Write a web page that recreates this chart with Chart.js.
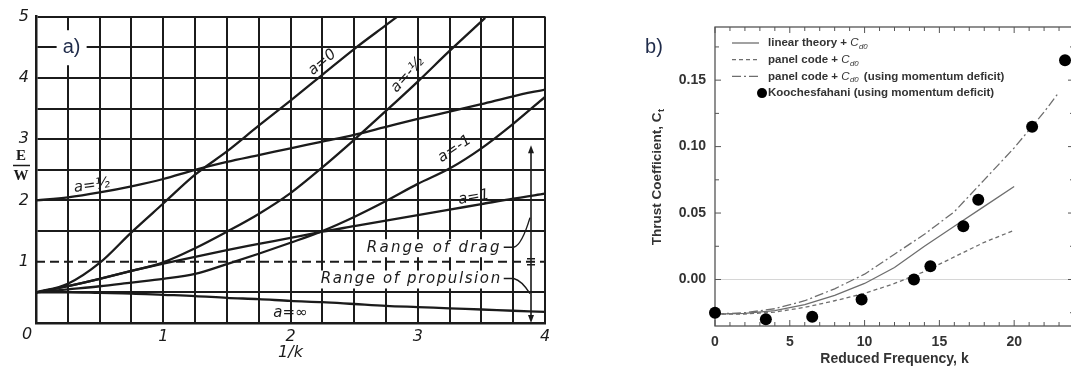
<!DOCTYPE html>
<html>
<head>
<meta charset="utf-8">
<title>Oscillating foil: energy ratio and thrust</title>
<script src="https://cdn.jsdelivr.net/npm/chart.js@4.4.1/dist/chart.umd.min.js"></script>
<style>
  html, body { margin: 0; padding: 0; background: #fff; overflow: hidden; }
  body { width: 1071px; height: 369px; position: relative; }
  canvas { position: absolute; top: 0; }
  #chartA { left: 0; }
  #chartB { left: 620px; }
</style>
</head>
<body>
<canvas id="chartA" width="560" height="369"></canvas>
<canvas id="chartB" width="460" height="369"></canvas>
<script>
// ---------- a) E/W against 1/k, one curve per pivot position a ----------
const invK = [0, 0.25, 0.5, 0.75, 1, 1.25, 1.5, 1.75, 2, 2.25, 2.5, 2.75, 3, 3.25, 3.5, 3.75, 4];
const invKZero = [0, 0.25, 0.5, 0.75, 1, 1.25, 1.5, 1.75, 2, 2.25, 2.5, 2.75, 2.84];
const ewZero = [0.5, 0.64, 0.98, 1.48, 1.95, 2.42, 2.8, 3.22, 3.63, 4.05, 4.47, 4.86, 5.0];
const invKMinusHalf = [0, 0.25, 0.5, 0.75, 1, 1.25, 1.5, 1.75, 2, 2.25, 2.5, 2.75, 3, 3.25, 3.53];
const ewMinusHalf = [0.5, 0.6, 0.72, 0.85, 0.99, 1.22, 1.49, 1.78, 2.12, 2.54, 2.99, 3.46, 3.94, 4.44, 4.98];
const ewHalf = [2.0, 2.05, 2.13, 2.23, 2.35, 2.5, 2.63, 2.74, 2.85, 2.96, 3.07, 3.2, 3.33, 3.45, 3.57, 3.7, 3.81];
const ewOne = [0.5, 0.6, 0.72, 0.85, 0.97, 1.08, 1.19, 1.29, 1.39, 1.49, 1.58, 1.67, 1.76, 1.85, 1.94, 2.03, 2.11];
const ewMinusOne = [0.5, 0.55, 0.6, 0.66, 0.72, 0.8, 0.96, 1.13, 1.31, 1.5, 1.73, 1.99, 2.27, 2.52, 2.85, 3.25, 3.69];
const ewInf = [0.5, 0.5, 0.49, 0.48, 0.46, 0.44, 0.41, 0.39, 0.36, 0.34, 0.31, 0.28, 0.26, 0.24, 0.22, 0.2, 0.18];
// boundary between drag and propulsion
const dragLimitK = [0, 4];
const dragLimitEW = [1, 1];

// ---------- b) thrust coefficient against reduced frequency ----------
const kTheory = [0, 2, 4, 6, 8, 10, 12, 14, 16, 18, 20];
const ctLinear = [-0.026, -0.0255, -0.0235, -0.019, -0.012, -0.003, 0.009, 0.025, 0.040, 0.055, 0.070];
const ctPanel = [-0.026, -0.026, -0.0245, -0.021, -0.016, -0.0105, -0.003, 0.006, 0.017, 0.028, 0.037];
const kPanelMom = [0, 2, 4, 6, 8, 10, 12, 14, 16, 18, 20, 22, 23];
const ctPanelMom = [-0.026, -0.025, -0.022, -0.016, -0.007, 0.004, 0.019, 0.034, 0.051, 0.075, 0.099, 0.126, 0.141];
const kExp = [0, 3.4, 6.5, 9.8, 13.3, 14.4, 16.6, 17.6, 21.2, 23.4];
const ctExp = [-0.025, -0.030, -0.028, -0.015, 0.0, 0.010, 0.040, 0.060, 0.115, 0.165];
// major (labelled) and minor tick positions on the C_t axis
const ctTicks = [-0.025, 0, 0.025, 0.05, 0.075, 0.1, 0.125, 0.15, 0.175];

const pts = (xs, ys) => xs.map((v, i) => ({ x: v, y: ys[i] }));

const INK = '#1b1b1b';
const HAND = '"DejaVu Sans"';

// text written along the curves of a)
const curveNotes = [
  { text: 'a=0', k: 2.25, ew: 4.25, angle: -40 },
  { text: 'a=-½', k: 2.92, ew: 4.05, angle: -48 },
  { text: 'a=-1', k: 3.29, ew: 2.84, angle: -34 },
  { text: 'a=1', k: 3.44, ew: 2.05, angle: -10 },
  { text: 'a=½', k: 0.44, ew: 2.24, angle: -8 },
  { text: 'a=∞', k: 2.0, ew: 0.16, angle: 0 }
];
const rangeNotes = [
  { text: 'Range of drag', k: 3.66, ew: 1.22, spacing: '2.2px' },
  { text: 'Range of propulsion', k: 3.66, ew: 0.71, spacing: '1.6px' }
];
const arrowK = 3.89;
const arrowTop = 2.9;

const notesA = {
  id: 'notesA',
  beforeDatasetsDraw(chart) {
    const { ctx, scales: { x, y } } = chart;
    ctx.save();
    ctx.font = `italic 15px ${HAND}`;
    ctx.textBaseline = 'middle';
    ctx.textAlign = 'right';
    rangeNotes.forEach(n => {
      ctx.letterSpacing = n.spacing;
      const px = x.getPixelForValue(n.k), py = y.getPixelForValue(n.ew);
      const w = ctx.measureText(n.text).width;
      ctx.fillStyle = '#fff';
      ctx.fillRect(px - w - 4, py - 9, w + 8, 18);
      ctx.fillStyle = INK;
      ctx.fillText(n.text, px, py);
    });
    ctx.letterSpacing = '0px';
    // panel tag
    const tx = x.getPixelForValue(0.28), ty = y.getPixelForValue(4.5);
    ctx.fillStyle = '#fff';
    ctx.fillRect(tx - 15, ty - 17, 30, 35);
    ctx.font = '20px "Liberation Sans"';
    ctx.textAlign = 'center';
    ctx.fillStyle = '#1f2b4a';
    ctx.fillText('a)', tx, ty);
    ctx.restore();
  },
  afterDatasetsDraw(chart) {
    const { ctx, chartArea, scales: { x, y } } = chart;
    ctx.save();
    ctx.fillStyle = INK;
    ctx.strokeStyle = INK;
    ctx.font = `italic 15px ${HAND}`;
    ctx.textAlign = 'center';
    ctx.textBaseline = 'middle';
    curveNotes.forEach(n => {
      ctx.save();
      ctx.translate(x.getPixelForValue(n.k), y.getPixelForValue(n.ew));
      ctx.rotate(n.angle * Math.PI / 180);
      ctx.fillText(n.text, 0, 0);
      ctx.restore();
    });

    // shared origin label, set below-left of the corner
    ctx.font = `italic 16px ${HAND}`;
    ctx.fillText('0', chartArea.left - 9, chartArea.bottom + 12);

    // double arrow spanning the two ranges
    const ax = x.getPixelForValue(arrowK);
    const aTop = y.getPixelForValue(arrowTop), aBot = y.getPixelForValue(0);
    const aMid = y.getPixelForValue(1);
    ctx.lineWidth = 1.6;
    ctx.beginPath();
    ctx.moveTo(ax, aTop + 4); ctx.lineTo(ax, aBot - 4);
    ctx.moveTo(ax - 4, aMid - 3); ctx.lineTo(ax + 4, aMid - 3);
    ctx.moveTo(ax - 4, aMid + 3); ctx.lineTo(ax + 4, aMid + 3);
    ctx.stroke();
    ctx.beginPath();
    ctx.moveTo(ax, aTop); ctx.lineTo(ax - 3, aTop + 8); ctx.lineTo(ax + 3, aTop + 8); ctx.closePath();
    ctx.moveTo(ax, aBot); ctx.lineTo(ax - 3, aBot - 8); ctx.lineTo(ax + 3, aBot - 8); ctx.closePath();
    ctx.fill();

    // leaders from the range texts to the arrow
    ctx.lineWidth = 1.4;
    const ld = y.getPixelForValue(rangeNotes[0].ew) - 1;
    const lp = y.getPixelForValue(rangeNotes[1].ew) - 1;
    const lx = x.getPixelForValue(rangeNotes[0].k) + 2;
    ctx.beginPath();
    ctx.moveTo(lx, ld); ctx.lineTo(lx + 10, ld);
    ctx.quadraticCurveTo(lx + 18, ld - 2, ax - 1, y.getPixelForValue(1.72));
    ctx.moveTo(lx, lp); ctx.lineTo(lx + 10, lp);
    ctx.quadraticCurveTo(lx + 18, lp + 2, ax - 1, y.getPixelForValue(0.48));
    ctx.stroke();

    // E over W, the ordinate name
    ctx.font = 'bold 15px "Liberation Serif"';
    ctx.fillText('E', 21, 156);
    ctx.fillText('W', 21, 176);
    ctx.lineWidth = 1.5;
    ctx.beginPath();
    ctx.moveTo(13, 165.5); ctx.lineTo(30, 165.5);
    ctx.stroke();
    ctx.restore();
  }
};

const curveStyle = {
  borderColor: INK, borderWidth: 2.3, pointRadius: 0,
  cubicInterpolationMode: 'monotone', fill: false
};

new Chart(document.getElementById('chartA'), {
  type: 'line',
  data: {
    datasets: [
      { label: 'a = 0', data: pts(invKZero, ewZero), ...curveStyle },
      { label: 'a = -1/2', data: pts(invKMinusHalf, ewMinusHalf), ...curveStyle },
      { label: 'a = 1/2', data: pts(invK, ewHalf), ...curveStyle },
      { label: 'a = 1', data: pts(invK, ewOne), ...curveStyle },
      { label: 'a = -1', data: pts(invK, ewMinusOne), ...curveStyle },
      { label: 'a = inf', data: pts(invK, ewInf), ...curveStyle },
      { label: 'drag / propulsion', data: pts(dragLimitK, dragLimitEW), ...curveStyle,
        borderWidth: 2, borderDash: [9, 5] }
    ]
  },
  options: {
    responsive: false,
    animation: false,
    events: [],
    layout: { padding: { left: 0, top: 12, right: 15, bottom: 0 } },
    plugins: { legend: { display: false }, tooltip: { enabled: false } },
    scales: {
      x: {
        type: 'linear', min: 0, max: 4,
        afterFit: s => { s.height = 46; },
        grid: { color: INK, lineWidth: 2, drawTicks: false },
        border: { color: INK, width: 2.5 },
        ticks: {
          stepSize: 0.25, autoSkip: false, maxRotation: 0, padding: 4,
          color: INK, font: { family: 'DejaVu Sans', style: 'italic', size: 16 },
          callback: v => (Number.isInteger(v) && v > 0) ? String(v) : ''
        },
        title: {
          display: true, text: '1/k', color: INK,
          font: { family: 'DejaVu Sans', style: 'italic', size: 16 },
          padding: { top: 0, bottom: 7 }
        }
      },
      y: {
        min: 0, max: 5,
        afterFit: s => { s.width = 36; },
        grid: {
          lineWidth: 2, drawTicks: false,
          color: c => (c.tick && c.tick.value === 1) ? 'rgba(0,0,0,0)' : INK
        },
        border: { color: INK, width: 2.5 },
        ticks: {
          stepSize: 0.5, autoSkip: false, padding: 7,
          color: INK, font: { family: 'DejaVu Sans', style: 'italic', size: 16 },
          callback: v => (Number.isInteger(v) && v > 0) ? String(v) : ''
        }
      }
    }
  },
  plugins: [notesA]
});

// ---------- b) ----------
const GREY = '#6e6e6e';
const TEXT = '#333';
const FACE = '"Liberation Sans"';

// "C_xx" tokens become an italic C with a lowered index
function richText(ctx, str, x, y, size, draw, italicSym) {
  let cx = x;
  str.split(/(C_\w+)/).forEach(p => {
    if (!p) return;
    if (p.startsWith('C_')) {
      ctx.font = `${italicSym ? 'italic' : 'bold'} ${size}px ${FACE}`;
      if (draw) ctx.fillText('C', cx, y);
      cx += ctx.measureText('C').width + 0.5;
      ctx.font = `${italicSym ? 'italic' : 'bold'} ${size * 0.68}px ${FACE}`;
      if (draw) ctx.fillText(p.slice(2), cx, y + size * 0.32);
      cx += ctx.measureText(p.slice(2)).width + 2;
    } else {
      ctx.font = `bold ${size}px ${FACE}`;
      if (draw) ctx.fillText(p, cx, y);
      cx += ctx.measureText(p).width;
    }
  });
  return cx - x;
}

const isMajorCt = v => Math.round(v * 1000) % 50 === 0;

const framesB = {
  id: 'framesB',
  beforeDatasetsDraw(chart) {
    const { ctx, chartArea: a, scales: { x, y } } = chart;
    ctx.save();
    ctx.strokeStyle = '#555';
    ctx.lineWidth = 1.3;
    ctx.strokeRect(a.left, a.top, a.right - a.left, a.bottom - a.top);
    ctx.lineWidth = 1;
    ctx.beginPath();
    x.ticks.forEach(t => {
      const px = x.getPixelForValue(t.value);
      const len = t.value % 5 === 0 ? 6 : 4;
      ctx.moveTo(px, a.bottom); ctx.lineTo(px, a.bottom - len);
      ctx.moveTo(px, a.top); ctx.lineTo(px, a.top + len);
    });
    y.ticks.forEach(t => {
      const py = y.getPixelForValue(t.value);
      const len = isMajorCt(t.value) ? 6 : 4;
      ctx.moveTo(a.left, py); ctx.lineTo(a.left + len, py);
      ctx.moveTo(a.right, py); ctx.lineTo(a.right - len, py);
    });
    ctx.stroke();
    ctx.restore();
  },
  afterDatasetsDraw(chart) {
    const { ctx, data } = chart;
    ctx.save();
    // panel tag
    ctx.fillStyle = '#1f2b4a';
    ctx.font = `20px ${FACE}`;
    ctx.textBaseline = 'middle';
    ctx.textAlign = 'center';
    ctx.fillText('b)', 34, 47);

    // legend
    ctx.textAlign = 'left';
    data.datasets.forEach((ds, i) => {
      const ly = 43 + i * 16.7;
      if (ds.showLine === false) {
        ctx.fillStyle = '#000';
        ctx.beginPath();
        ctx.arc(142, ly, 5, 0, Math.PI * 2);
        ctx.fill();
      } else {
        ctx.strokeStyle = ds.borderColor;
        ctx.lineWidth = ds.borderWidth;
        ctx.setLineDash(ds.borderDash || []);
        ctx.beginPath();
        ctx.moveTo(112, ly); ctx.lineTo(139, ly);
        ctx.stroke();
        ctx.setLineDash([]);
      }
      ctx.fillStyle = TEXT;
      richText(ctx, ds.label, 148, ly, 11.5, true, true);
    });

    // rotated ordinate title
    ctx.translate(37, 176);
    ctx.rotate(-Math.PI / 2);
    ctx.fillStyle = TEXT;
    const t = 'Thrust Coefficient, C_t';
    const w = richText(ctx, t, 0, 0, 13.5, false, false);
    richText(ctx, t, -w / 2, 0, 13.5, true, false);
    ctx.restore();
  }
};

const lineStyle = { borderColor: GREY, borderWidth: 1.3, pointRadius: 0, tension: 0, order: 1 };

new Chart(document.getElementById('chartB'), {
  type: 'line',
  data: {
    datasets: [
      { label: 'linear theory + C_d0', data: pts(kTheory, ctLinear), ...lineStyle },
      { label: 'panel code + C_d0', data: pts(kTheory, ctPanel), ...lineStyle, borderDash: [4, 3] },
      { label: 'panel code + C_d0 (using momentum deficit)', data: pts(kPanelMom, ctPanelMom),
        ...lineStyle, borderDash: [9, 3, 2, 3] },
      { label: 'Koochesfahani (using momentum deficit)', data: pts(kExp, ctExp),
        showLine: false, pointRadius: 6, pointBackgroundColor: '#000', pointBorderColor: '#000',
        pointBorderWidth: 0, clip: false, order: -1 }
    ]
  },
  options: {
    responsive: false,
    animation: false,
    events: [],
    layout: { padding: { left: 0, top: 27, right: 1.4, bottom: 0 } },
    plugins: { legend: { display: false }, tooltip: { enabled: false } },
    scales: {
      x: {
        type: 'linear', min: 0, max: 24,
        afterFit: s => { s.height = 43; },
        grid: { display: false },
        border: { display: false },
        ticks: {
          stepSize: 1, autoSkip: false, maxRotation: 0, padding: 0,
          color: TEXT, font: { family: 'Liberation Sans', weight: 'bold', size: 14 },
          callback: v => (v % 5 === 0) ? String(v) : ''
        },
        title: {
          display: true, text: 'Reduced Frequency, k', color: TEXT,
          font: { family: 'Liberation Sans', weight: 'bold', size: 14 },
          padding: { top: 0, bottom: 1 }
        }
      },
      y: {
        min: -0.035, max: 0.19,
        afterFit: s => { s.width = 95; },
        afterBuildTicks: s => { s.ticks = ctTicks.map(v => ({ value: v })); },
        grid: {
          drawTicks: false, lineWidth: 1,
          color: c => (c.tick && Math.abs(c.tick.value) < 1e-9) ? '#d6d6d6' : 'rgba(0,0,0,0)'
        },
        border: { display: false },
        ticks: {
          autoSkip: false, padding: 9,
          color: TEXT, font: { family: 'Liberation Sans', weight: 'bold', size: 14 },
          callback: v => {
            if (!isMajorCt(v)) return '';
            return Math.abs(v) < 1e-9 ? '0.00' : v.toFixed(2);
          }
        }
      }
    }
  },
  plugins: [framesB]
});
</script>
</body>
</html>
